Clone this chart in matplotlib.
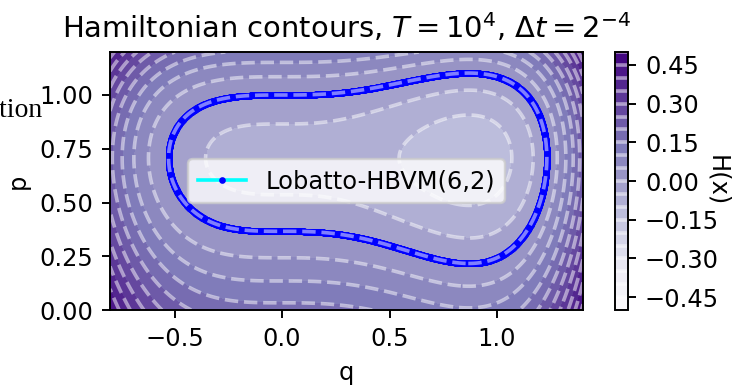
import numpy as np
import matplotlib
matplotlib.use("Agg")
import matplotlib.pyplot as plt
import contourpy

# Hamiltonian H(q,p) = p^3/3 - p/2 + q^6/30 + q^4/4 - q^3/3 + 1/6
p_coefs = [1 / 3, 0.0, -1 / 2, 0.0]                  # p^3 .. p^0
q_coefs = [1 / 30, 0.0, 1 / 4, -1 / 3, 0.0, 0.0, 1 / 6]  # q^6 .. q^0

q_lim = [-0.8, 1.4]
p_lim = [0.0, 1.2]
levels = [-0.5, -0.45, -0.4, -0.35, -0.3, -0.25, -0.2, -0.15, -0.1, -0.05,
          0.0, 0.05, 0.1, 0.15, 0.2, 0.25, 0.3, 0.35, 0.4, 0.45, 0.5]
H0 = 0.0  # energy of the orbit starting at (q, p) = (0, 1)
label = "Lobatto-HBVM(6,2)"


def hamiltonian(q, p):
    return np.polyval(p_coefs, p) + np.polyval(q_coefs, q)


dpi = 174
fig = plt.figure(figsize=(737 / dpi, 387 / dpi), dpi=dpi)
ax = fig.add_axes([110 / 737, 77 / 387, 473 / 737, 258 / 387])
cax = fig.add_axes([615 / 737, 77 / 387, 13 / 737, 258 / 387])

qq, pp = np.meshgrid(np.linspace(q_lim[0], q_lim[1], 400),
                     np.linspace(p_lim[0], p_lim[1], 300))
HH = hamiltonian(qq, pp)

cf = ax.contourf(qq, pp, HH, levels=levels, cmap="Purples")

# numerical orbit = level set H = H0
qf, pf = np.meshgrid(np.linspace(-1, 1.6, 1500), np.linspace(-0.2, 1.4, 1000))
orbit = contourpy.contour_generator(qf, pf, hamiltonian(qf, pf)).lines(H0)[0]
ax.plot(orbit[:, 0], orbit[:, 1], color="cyan", marker=".", markersize=3.5,
        markerfacecolor="blue", markeredgecolor="blue", label=label)

cs = ax.contour(qq, pp, HH, levels=levels, colors="white",
                linestyles="dashed", alpha=0.5)

ax.set_xlim(q_lim)
ax.set_ylim(p_lim)
ax.set_xlabel("q")
ax.set_ylabel("p")
ax.set_title(r"Hamiltonian contours, $T=10^4$, $\Delta t=2^{-4}$")
ax.legend(loc="center")

cbar = fig.colorbar(cf, cax=cax)
cbar.add_lines(cs)
cbar.set_label("H(x)", rotation=270)

fig.text(42 / 737, 1 - 117 / 387, "Energy deviation", ha="right",
         va="baseline", family="Liberation Serif", fontsize=11.5)

fig.savefig("out.png", dpi=dpi)
